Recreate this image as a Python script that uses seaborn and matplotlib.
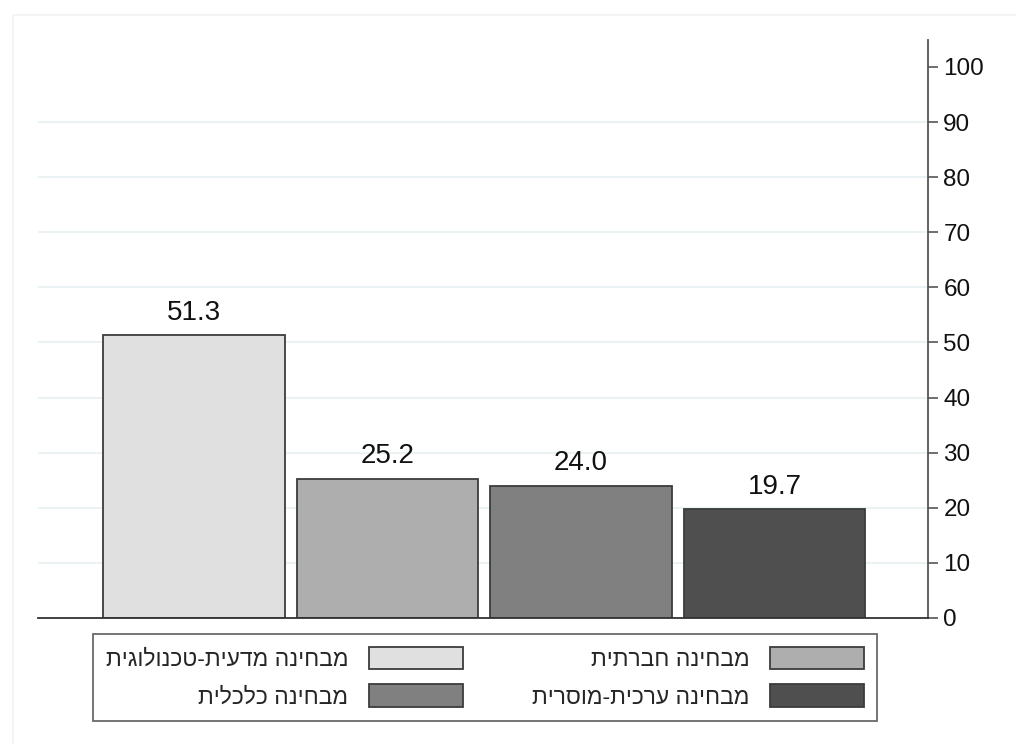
import pandas as pd
import matplotlib.pyplot as plt
import matplotlib.patches as mpatches
import seaborn as sns

# Data
categories = ["מבחינה מדעית-טכנולוגית", "מבחינה חברתית", "מבחינה כלכלית", "מבחינה ערכית-מוסרית"]
values = [51.3, 25.2, 24.0, 19.7]
bar_colors = ["#e0e0e0", "#aeaeae", "#808080", "#4f4f4f"]
yticks = list(range(0, 101, 10))

sns.set_style("white")
plt.rcParams["font.family"] = ["Liberation Sans", "DejaVu Sans"]

# matplotlib has no bidi support, so Hebrew is reversed for display
def rtl(s):
    return s[::-1]

df = pd.DataFrame({"category": categories, "value": values})

fig = plt.figure(figsize=(10.16, 7.44), dpi=100)
ax = fig.add_axes([38 / 1016, 1 - 618 / 744, (928 - 38) / 1016, (618 - 40) / 744])

# faint outer border like the Stata graph region
fig.patches.append(mpatches.Rectangle((13 / 1016, -0.05), 1.2, 1 - 15 / 744 + 0.05,
                                      transform=fig.transFigure, fill=False,
                                      edgecolor="#f2f2f2", lw=1.2))

for y in yticks[1:-1]:
    ax.axhline(y, color="#eaf2f3", lw=1.4, zorder=0)

sns.barplot(data=df, x="category", y="value", hue="category", order=categories,
            hue_order=categories, palette=bar_colors, saturation=1, width=0.94,
            edgecolor="#3c3c3c", linewidth=1.3, legend=False, ax=ax, zorder=2)

for cont in ax.containers:
    ax.bar_label(cont, fmt="%.1f", padding=7, fontsize=20, color="#111111")

ax.set_xlim(-0.806, 3.793)
ax.set_ylim(0, 104.9)
ax.set_yticks(yticks)
ax.yaxis.tick_right()
ax.tick_params(axis="y", length=7, width=1.2, color="#555555", labelsize=17.5,
               labelcolor="#111111", pad=4, right=True, left=False)
ax.set_xticks([])
ax.set_xlabel("")
ax.set_ylabel("")
for side in ["top", "left"]:
    ax.spines[side].set_visible(False)
ax.spines["right"].set_color("#555555")
ax.spines["right"].set_linewidth(1.3)
ax.spines["bottom"].set_color("#333333")
ax.spines["bottom"].set_linewidth(1.3)

# legend is filled row by row: reorder for matplotlib's column-major layout
order = [0, 2, 1, 3]
handles = [mpatches.Patch(facecolor=bar_colors[i], edgecolor="#3c3c3c", lw=1.3) for i in order]
labels = [rtl(categories[i]) for i in order]
leg = fig.legend(handles, labels, ncol=2, markerfirst=False,
                 loc="upper left", mode="expand",
                 bbox_to_anchor=(93 / 1016, 1 - 718 / 744, (877 - 93) / 1016, (718 - 634) / 744),
                 fontsize=16.5, frameon=True, fancybox=False, edgecolor="#444444",
                 handlelength=4.1, handleheight=1.15, handletextpad=0.9,
                 labelspacing=0.6, borderpad=0.55, borderaxespad=0, columnspacing=2.5)
leg.get_frame().set_linewidth(1.3)

plt.savefig("out.png", dpi=100)
